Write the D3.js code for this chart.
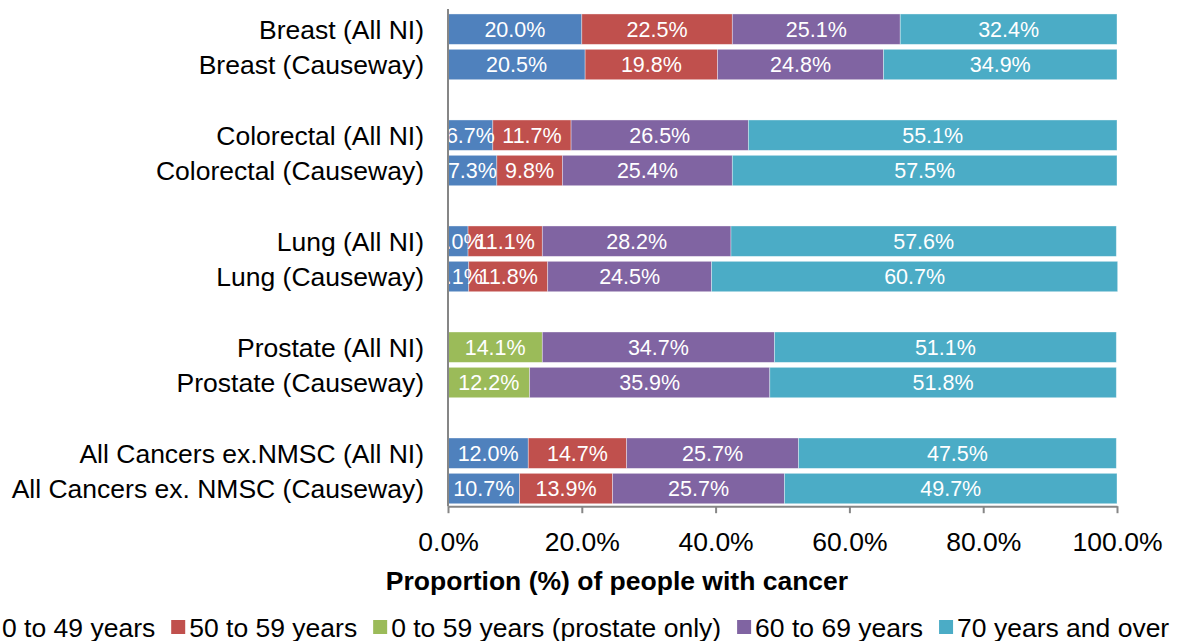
<!DOCTYPE html>
<html>
<head>
<meta charset="utf-8">
<script src="https://cdn.jsdelivr.net/npm/d3@7/dist/d3.min.js"></script>
<style>
  html, body { margin: 0; padding: 0; background: #fff; }
  svg { display: block; font-family: "Liberation Sans", Arial, sans-serif; }
</style>
</head>
<body>
<svg id="chart" width="1184" height="641"></svg>
<script>
// ---- Data ----
const categories = [
  "Breast (All NI)", "Breast (Causeway)",
  "Colorectal (All NI)", "Colorectal (Causeway)",
  "Lung (All NI)", "Lung (Causeway)",
  "Prostate (All NI)", "Prostate (Causeway)",
  "All Cancers ex.NMSC (All NI)", "All Cancers ex. NMSC (Causeway)"
];
const seriesNames = ["0 to 49 years", "50 to 59 years", "0 to 59 years (prostate only)", "60 to 69 years", "70 years and over"];
const age0to49   = [20.0, 20.5, 6.7, 7.3, 3.0, 3.1, 0, 0, 12.0, 10.7];
const age50to59  = [22.5, 19.8, 11.7, 9.8, 11.1, 11.8, 0, 0, 14.7, 13.9];
const age0to59P  = [0, 0, 0, 0, 0, 0, 14.1, 12.2, 0, 0];
const age60to69  = [25.1, 24.8, 26.5, 25.4, 28.2, 24.5, 34.7, 35.9, 25.7, 25.7];
const age70plus  = [32.4, 34.9, 55.1, 57.5, 57.6, 60.7, 51.1, 51.8, 47.5, 49.7];
const xTicks = [0, 20, 40, 60, 80, 100];
const colors = ["#4F81BD", "#C0504D", "#9BBB59", "#8064A2", "#4BACC6"];

const seriesValues = [age0to49, age50to59, age0to59P, age60to69, age70plus];

// ---- Layout ----
const svg = d3.select("#chart");
const plot = { left: 448, right: 1117, top: 11.5, bottom: 506.2 };
const axisColor = "#868686";

// Slots: pairs separated by an empty slot
const slotKeys = [];
categories.forEach((c, i) => {
  if (i > 0 && i % 2 === 0) slotKeys.push("__gap" + i);
  slotKeys.push(c);
});

const y = d3.scaleBand().domain(slotKeys).range([plot.top, plot.bottom]).paddingInner(0.14).paddingOuter(0.07);
const x = d3.scaleLinear().domain([0, 100]).range([plot.left, plot.right]);

const rows = categories.map((c, i) => {
  const r = { cat: c };
  seriesNames.forEach((s, k) => r[s] = seriesValues[k][i]);
  return r;
});
const stacked = d3.stack().keys(seriesNames)(rows);

// clip for plot area
svg.append("defs").append("clipPath").attr("id", "plotclip")
  .append("rect").attr("x", plot.left).attr("y", 0).attr("width", plot.right - plot.left + 1).attr("height", plot.bottom);

// bars
const gBars = svg.append("g");
stacked.forEach((layer, k) => {
  gBars.selectAll(null).data(layer.filter(d => d[1] - d[0] > 0)).enter().append("rect")
    .attr("x", d => x(d[0]))
    .attr("y", d => y(d.data.cat))
    .attr("width", d => x(d[1]) - x(d[0]))
    .attr("height", y.bandwidth())
    .attr("fill", colors[k])
    .attr("stroke", "#ffffff").attr("stroke-opacity", 0.45).attr("stroke-width", 0.8);
});

// bar labels
const gLab = svg.append("g").attr("clip-path", "url(#plotclip)");
stacked.forEach((layer, k) => {
  gLab.selectAll(null).data(layer.filter(d => d[1] - d[0] > 0)).enter().append("text")
    .attr("x", d => (x(d[0]) + x(d[1])) / 2)
    .attr("y", d => y(d.data.cat) + y.bandwidth() / 2)
    .attr("dy", "0.36em")
    .attr("text-anchor", "middle")
    .attr("fill", "#ffffff")
    .attr("font-size", "21.5px")
    .text(d => (d[1] - d[0]).toFixed(1) + "%");
});

// category labels
svg.append("g").selectAll("text").data(categories).enter().append("text")
  .attr("x", 424)
  .attr("y", d => y(d) + y.bandwidth() / 2)
  .attr("dy", "0.36em")
  .attr("text-anchor", "end")
  .attr("font-size", "26.5px")
  .attr("fill", "#000")
  .text(d => d);

// vertical axis line
svg.append("line")
  .attr("x1", plot.left).attr("x2", plot.left)
  .attr("y1", 9).attr("y2", plot.bottom)
  .attr("stroke", axisColor).attr("stroke-width", 2);

// x axis
const xAxis = d3.axisBottom(x).tickValues(xTicks).tickSize(7).tickSizeOuter(0).tickFormat(d => d.toFixed(1) + "%");
const gx = svg.append("g").attr("transform", `translate(0,${plot.bottom})`).call(xAxis);
gx.select(".domain").attr("stroke", axisColor).attr("stroke-width", 2);
gx.selectAll(".tick line").attr("stroke", axisColor).attr("stroke-width", 2);
gx.selectAll(".tick text").attr("font-size", "26.5px").attr("fill", "#000")
  .attr("font-family", "'Liberation Sans', Arial, sans-serif")
  .attr("y", 35).attr("dy", "0.36em");

// axis title
svg.append("text")
  .attr("x", 617)
  .attr("y", 580).attr("dy", "0.36em")
  .attr("text-anchor", "middle")
  .attr("font-size", "26.5px").attr("font-weight", "bold").attr("fill", "#000")
  .text("Proportion (%) of people with cancer");

// legend
const gLeg = svg.append("g");
let cx = -16;
const ly = 627;
seriesNames.forEach((s, k) => {
  gLeg.append("rect").attr("x", cx).attr("y", ly - 7).attr("width", 14).attr("height", 14).attr("fill", colors[k]);
  const t = gLeg.append("text").attr("x", cx + 18).attr("y", ly).attr("dy", "0.36em")
    .attr("font-size", "26.5px").attr("fill", "#000").text(s);
  cx = cx + 18 + t.node().getComputedTextLength() + 16;
});
</script>
</body>
</html>
